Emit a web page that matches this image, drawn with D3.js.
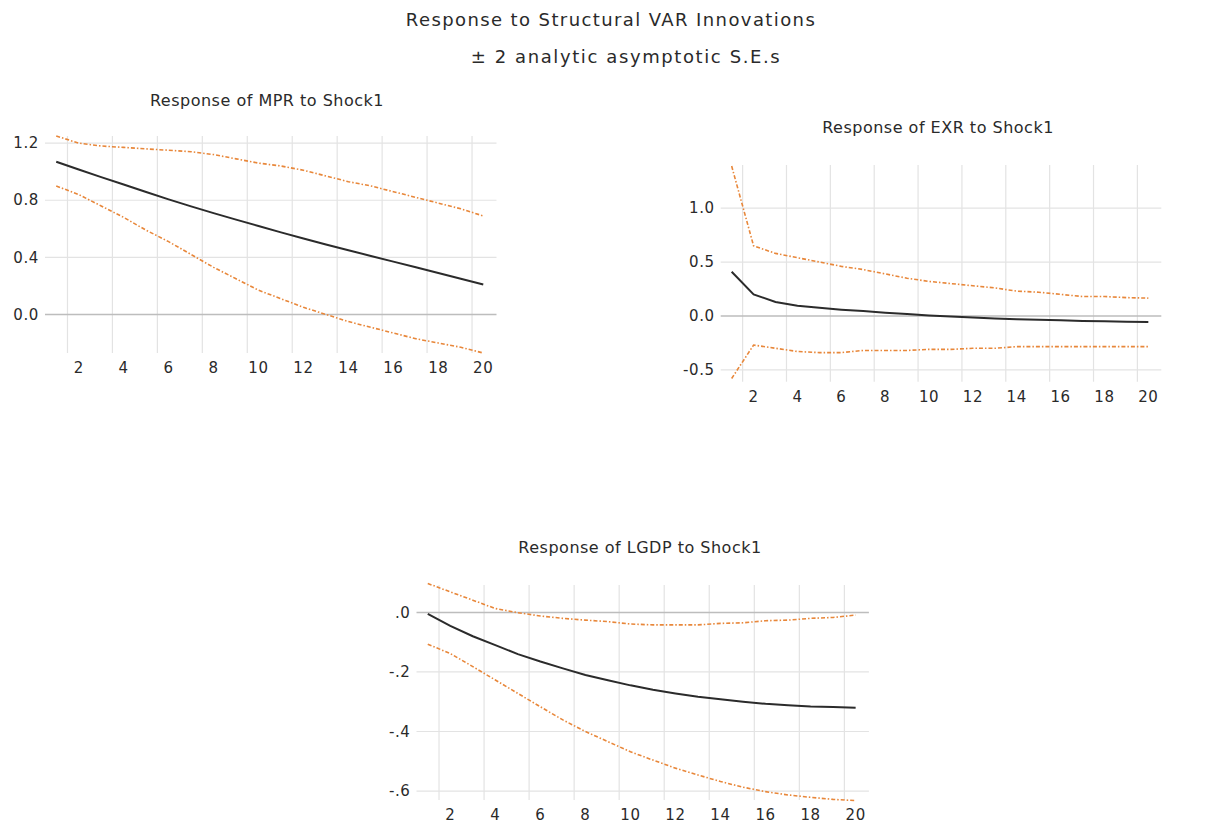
<!DOCTYPE html>
<html>
<head>
<meta charset="utf-8">
<script src="https://cdn.jsdelivr.net/npm/d3@7"></script>
<style>
  html, body { margin: 0; padding: 0; background: #ffffff; }
  svg { display: block; }
  text { font-family: "DejaVu Sans", sans-serif; fill: #2a2a2a; }
</style>
</head>
<body>
<svg id="chart" width="1215" height="825"></svg>
<script>
// ---- data ----
const periods = [1,2,3,4,5,6,7,8,9,10,11,12,13,14,15,16,17,18,19,20];
const xTicks = [2,4,6,8,10,12,14,16,18,20];

const mprResp  = [1.07,1.015,0.962,0.91,0.858,0.806,0.757,0.71,0.664,0.62,0.575,0.532,0.49,0.45,0.41,0.37,0.33,0.29,0.25,0.21];
const mprUpper = [1.25,1.20,1.18,1.17,1.16,1.15,1.14,1.12,1.09,1.06,1.04,1.01,0.97,0.93,0.90,0.86,0.82,0.78,0.74,0.69];
const mprLower = [0.90,0.84,0.76,0.68,0.59,0.51,0.42,0.33,0.25,0.17,0.11,0.05,0.00,-0.05,-0.09,-0.13,-0.17,-0.20,-0.23,-0.27];
const mprTicks = [0.0,0.4,0.8,1.2];
const mprTickLabels = ["0.0","0.4","0.8","1.2"];

const exrResp  = [0.41,0.20,0.13,0.095,0.075,0.058,0.045,0.03,0.017,0.005,-0.005,-0.015,-0.023,-0.03,-0.036,-0.041,-0.046,-0.05,-0.053,-0.056];
const exrUpper = [1.39,0.65,0.58,0.54,0.50,0.46,0.43,0.39,0.35,0.32,0.30,0.28,0.26,0.23,0.22,0.20,0.18,0.18,0.17,0.165];
const exrLower = [-0.58,-0.27,-0.30,-0.33,-0.34,-0.34,-0.32,-0.32,-0.32,-0.31,-0.31,-0.30,-0.30,-0.285,-0.285,-0.285,-0.285,-0.285,-0.285,-0.285];
const exrTicks = [-0.5,0.0,0.5,1.0];
const exrTickLabels = ["-0.5","0.0","0.5","1.0"];

const gdpResp  = [-0.005,-0.045,-0.08,-0.11,-0.14,-0.165,-0.188,-0.21,-0.228,-0.245,-0.26,-0.272,-0.283,-0.292,-0.30,-0.307,-0.312,-0.316,-0.318,-0.32];
const gdpUpper = [0.097,0.069,0.041,0.013,-0.001,-0.012,-0.02,-0.026,-0.031,-0.039,-0.042,-0.042,-0.042,-0.037,-0.035,-0.028,-0.026,-0.02,-0.017,-0.009];
const gdpLower = [-0.107,-0.138,-0.182,-0.227,-0.272,-0.317,-0.361,-0.40,-0.434,-0.468,-0.496,-0.523,-0.546,-0.568,-0.587,-0.602,-0.613,-0.621,-0.628,-0.632];
const gdpTicks = [-0.6,-0.4,-0.2,0.0];
const gdpTickLabels = ["-.6","-.4","-.2",".0"];

const mainTitle = "Response to Structural VAR Innovations";
const subTitle = "\u00B1 2 analytic asymptotic S.E.s";

const panels = [
  { title: "Response of MPR to Shock1",  resp: mprResp, upper: mprUpper, lower: mprLower, ticks: mprTicks, labels: mprTickLabels,
    box: {x0: 45, x1: 494.5, y0: 136, y1: 353}, dom: [-0.27, 1.25], titleX: 267, titleY: 106 },
  { title: "Response of EXR to Shock1",  resp: exrResp, upper: exrUpper, lower: exrLower, ticks: exrTicks, labels: exrTickLabels,
    box: {x0: 720.7, x1: 1159.3, y0: 165, y1: 381.7}, dom: [-0.61, 1.40], titleX: 938, titleY: 133 },
  { title: "Response of LGDP to Shock1", resp: gdpResp, upper: gdpUpper, lower: gdpLower, ticks: gdpTicks, labels: gdpTickLabels,
    box: {x0: 416.5, x1: 866.9, y0: 585, y1: 800}, dom: [-0.63, 0.092], titleX: 640, titleY: 553 }
];

const svg = d3.select("#chart");

svg.append("text").attr("x", 611).attr("y", 26).attr("text-anchor", "middle")
  .style("font-size", "18px").style("letter-spacing", "1.4px").text(mainTitle);
svg.append("text").attr("x", 626).attr("y", 63).attr("text-anchor", "middle")
  .style("font-size", "18px").style("letter-spacing", "1.6px").text(subTitle);

panels.forEach(p => {
  const x = d3.scaleLinear().domain([0.5, 20.5]).range([p.box.x0, p.box.x1]);
  const y = d3.scaleLinear().domain(p.dom).range([p.box.y1, p.box.y0]);
  const g = svg.append("g");

  // vertical grid lines (between periods)
  g.selectAll(".vg").data(xTicks).enter().append("line")
    .attr("x1", d => x(d - 0.5)).attr("x2", d => x(d - 0.5))
    .attr("y1", p.box.y0).attr("y2", p.box.y1)
    .attr("stroke", "#e3e3e3").attr("stroke-width", 1.2);

  // horizontal grid lines
  g.selectAll(".hg").data(p.ticks).enter().append("line")
    .attr("x1", p.box.x0).attr("x2", p.box.x1 + 2)
    .attr("y1", d => y(d)).attr("y2", d => y(d))
    .attr("stroke", d => d === 0 ? "#bdbdbd" : "#e3e3e3")
    .attr("stroke-width", d => d === 0 ? 1.5 : 1.2);

  // y tick labels
  g.selectAll(".yl").data(p.ticks).enter().append("text")
    .attr("x", p.box.x0 - 6).attr("y", d => y(d)).attr("dy", "0.35em")
    .attr("text-anchor", "end").style("font-size", "15px").style("letter-spacing", "0.6px")
    .text((d, i) => p.labels[i]);

  // x tick labels
  g.selectAll(".xl").data(xTicks).enter().append("text")
    .attr("x", d => x(d)).attr("y", p.box.y1 + 20)
    .attr("text-anchor", "middle").style("font-size", "15px").style("letter-spacing", "0.6px")
    .text(d => d);

  // title
  g.append("text").attr("x", p.titleX).attr("y", p.titleY).attr("text-anchor", "middle")
    .style("font-size", "16px").style("letter-spacing", "0.5px").text(p.title);

  const line = arr => d3.line().x((d, i) => x(periods[i])).y(d => y(d))(arr);

  [p.upper, p.lower].forEach(arr => {
    g.append("path").attr("d", line(arr)).attr("fill", "none")
      .attr("stroke", "#e8873a").attr("stroke-width", 1.6)
      .attr("stroke-dasharray", "4,2,1.5,2");
  });
  g.append("path").attr("d", line(p.resp)).attr("fill", "none")
    .attr("stroke", "#2b2b2b").attr("stroke-width", 2);
});
</script>
</body>
</html>
